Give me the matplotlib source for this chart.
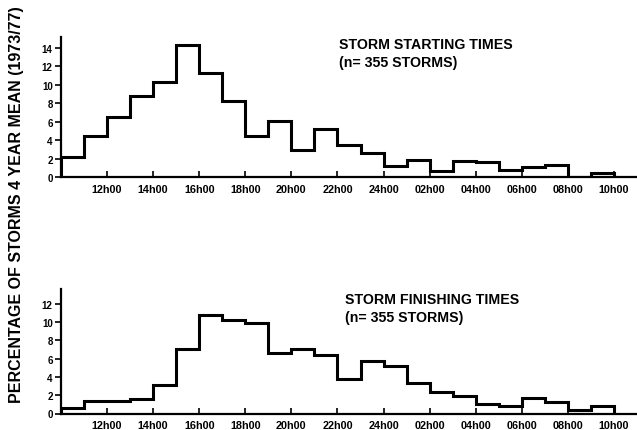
import matplotlib.pyplot as plt

# hourly bins from 10h00 to 10h00 next day (hours past midnight counted as 24+)
bin_edges = list(range(10, 35))
start_pct = [2.2, 4.4, 6.5, 8.8, 10.3, 14.3, 11.3, 8.3, 4.5, 6.1, 2.9, 5.2,
             3.5, 2.6, 1.2, 1.8, 0.6, 1.7, 1.6, 0.8, 1.1, 1.3, 0.0, 0.4]
finish_pct = [0.55, 1.35, 1.4, 1.6, 3.1, 7.1, 10.8, 10.2, 9.9, 6.6, 7.0, 6.4,
              3.8, 5.7, 5.2, 3.3, 2.4, 1.9, 1.05, 0.8, 1.7, 1.3, 0.4, 0.8]

tick_hours = [12, 14, 16, 18, 20, 22, 24, 26, 28, 30, 32, 34]
tick_labels = ["12h00", "14h00", "16h00", "18h00", "20h00", "22h00",
               "24h00", "02h00", "04h00", "06h00", "08h00", "10h00"]

panel_titles = ["STORM STARTING TIMES\n(n= 355 STORMS)",
                "STORM FINISHING TIMES\n(n= 355 STORMS)"]

plt.rcParams['font.family'] = ['Liberation Sans', 'DejaVu Sans']
plt.rcParams['font.weight'] = 'bold'

W, H = 637, 431
fig = plt.figure(figsize=(W / 100, H / 100), dpi=100)


def px_axes(left, top, right, bottom):
    # axes box given in pixels measured from the top-left corner
    return fig.add_axes([left / W, 1 - bottom / H, (right - left) / W, (bottom - top) / H])


def style(ax, ymax, yticks):
    ax.set_xlim(10, 35)
    ax.set_ylim(0, ymax)
    for s in ("top", "right"):
        ax.spines[s].set_visible(False)
    for s in ("left", "bottom"):
        ax.spines[s].set_linewidth(1.6)
    ax.set_yticks(yticks)
    ax.set_xticks(tick_hours)
    ax.set_xticklabels(tick_labels)
    ax.tick_params(axis="x", direction="in", length=4, width=1.2, labelsize=7.8, pad=5)
    ax.tick_params(axis="y", direction="out", length=4, width=1.2, labelsize=7, pad=2)
    for lab in ax.get_xticklabels() + ax.get_yticklabels():
        lab.set_fontweight("bold")


ax1 = px_axes(61, 38, 637, 178)
ax1.stairs(start_pct, bin_edges, baseline=0, color="black", linewidth=2.2)
style(ax1, 15.2, range(0, 15, 2))

ax2 = px_axes(61, 290, 637, 414.5)
ax2.stairs(finish_pct, bin_edges, baseline=0, color="black", linewidth=2.2)
style(ax2, 13.6, range(0, 13, 2))

fig.text(339 / W, 1 - 54 / H, panel_titles[0], fontsize=10.2, fontweight="bold",
         va="center", ha="left", linespacing=1.35)
fig.text(345 / W, 1 - 309 / H, panel_titles[1], fontsize=10.2, fontweight="bold",
         va="center", ha="left", linespacing=1.35)

fig.text(17 / W, 1 - 205 / H, "PERCENTAGE OF STORMS 4 YEAR MEAN (1973/77)",
         rotation=90, fontsize=11.5, fontweight="bold", va="center", ha="center")

fig.savefig("out.png", dpi=100)
